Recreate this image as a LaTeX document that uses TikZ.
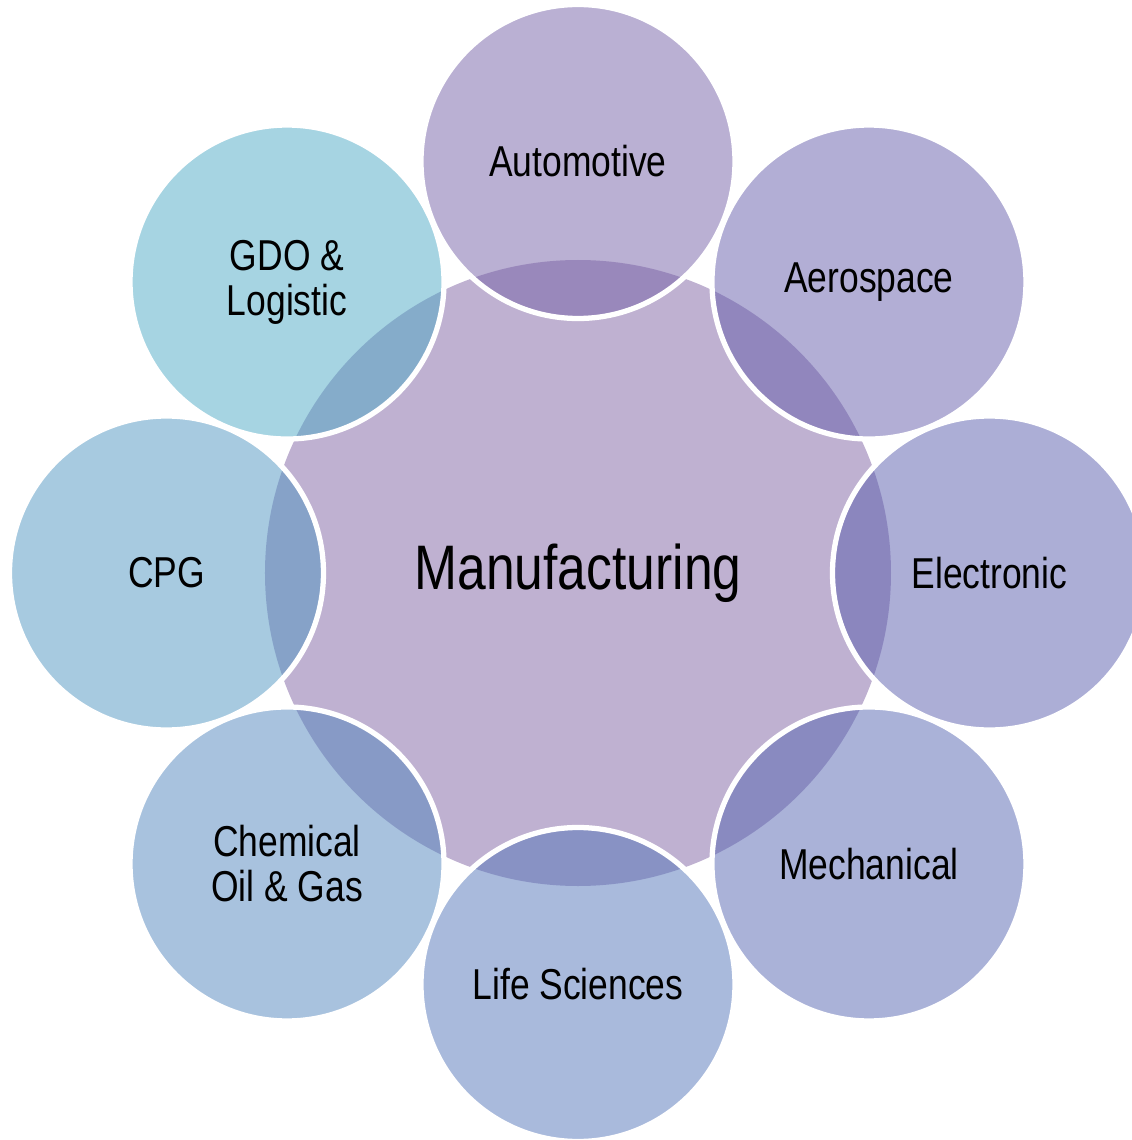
\documentclass[tikz,border=0pt]{standalone}
\usepackage{fontspec}
\setmainfont{Liberation Sans}[FakeStretch=0.82]
\definecolor{hubpurple}{RGB}{191, 177, 209}
\definecolor{autopurple}{RGB}{117, 97, 167}
\definecolor{aeropurple}{RGB}{101, 93, 171}
\definecolor{elecviolet}{RGB}{89, 93, 173}
\definecolor{mechviolet}{RGB}{85, 101, 177}
\definecolor{lifeblue}{RGB}{83, 117, 185}
\definecolor{chemblue}{RGB}{81, 133, 189}
\definecolor{cpgblue}{RGB}{79, 149, 193}
\definecolor{gdocyan}{RGB}{77, 169, 197}
\usepackage{tikz}
\usetikzlibrary{shapes, positioning, calc}

\tikzset{
  hub/.style={circle, fill=hubpurple, minimum size=6.26cm, inner sep=0pt, font=\fontsize{17.9}{18}\selectfont},
  sector/.style={circle, draw=white, line width=1.5pt, fill opacity=0.5, text opacity=1, minimum size=3.14cm, inner sep=0pt, align=center, font=\fontsize{12.3}{12.8}\selectfont}
}

\begin{document}
\begin{tikzpicture}
  \clip (-5.78, -5.67) rectangle (5.54, 5.73);

  % Centre
  \node[hub] (manuf) at (0, 0) {Manufacturing};

  % Sectors round the centre
  \node[sector, fill=autopurple] (auto) at (90:4.115) {Automotive};
  \node[sector, fill=aeropurple] (aero) at (45:4.115) {Aerospace};
  \node[sector, fill=elecviolet] (elec) at (0:4.115) {Electronic};
  \node[sector, fill=mechviolet] (mech) at (-45:4.115) {Mechanical};
  \node[sector, fill=lifeblue] (life) at (-90:4.115) {Life Sciences};
  \node[sector, fill=chemblue] (chem) at (-135:4.115) {Chemical\\Oil \& Gas};
  \node[sector, fill=cpgblue] (cpg) at (180:4.115) {CPG};
  \node[sector, fill=gdocyan] (gdo) at (135:4.115) {GDO \&\\Logistic};
\end{tikzpicture}
\end{document}
